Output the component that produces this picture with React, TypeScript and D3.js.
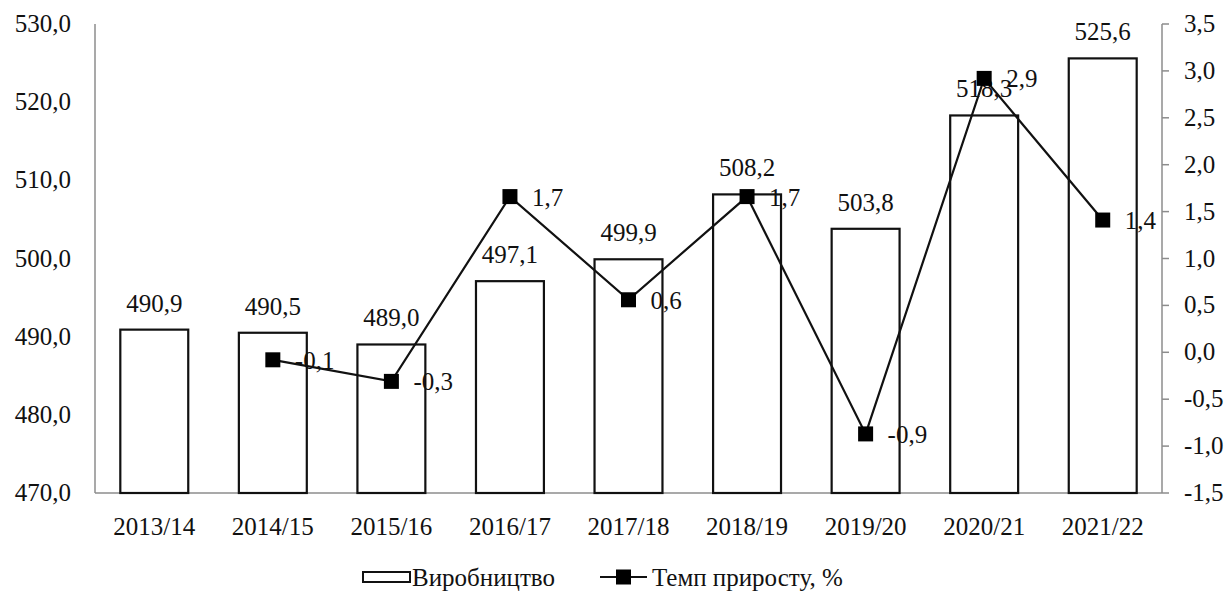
import * as d3 from "d3";

const categories = ["2013/14", "2014/15", "2015/16", "2016/17", "2017/18", "2018/19", "2019/20", "2020/21", "2021/22"];
const production = [490.9, 490.5, 489.0, 497.1, 499.9, 508.2, 503.8, 518.3, 525.6];
// growth rate, %; first season has no previous year
const growth: (number | null)[] = [null, -0.08, -0.31, 1.66, 0.56, 1.66, -0.87, 2.92, 1.41];
const leftTicks = [470, 480, 490, 500, 510, 520, 530];
const rightTicks = [-1.5, -1.0, -0.5, 0, 0.5, 1.0, 1.5, 2.0, 2.5, 3.0, 3.5];

const width = 1230;
const height = 594;
const marginLeft = 95;
const marginRight = 68;
const marginTop = 24;
const marginBottom = 101;
const font = "Liberation Serif, Tinos, Times New Roman, serif";
const fontSize = 25;

const fmt = (v: number) => v.toFixed(1).replace(".", ",");

export default function App() {
  const plotRight = width - marginRight;
  const plotBottom = height - marginBottom;

  const x = d3
    .scaleBand()
    .domain(categories)
    .range([marginLeft, plotRight])
    .paddingInner(0.427)
    .paddingOuter(0.2135);

  const yLeft = d3.scaleLinear().domain([470, 530]).range([plotBottom, marginTop]);
  const yRight = d3.scaleLinear().domain([-1.5, 3.5]).range([plotBottom, marginTop]);

  const pts = categories
    .map((c, i) => ({ c, v: growth[i] }))
    .filter((d) => d.v !== null) as { c: string; v: number }[];

  const cx = (c: string) => x(c)! + x.bandwidth() / 2;

  const line = d3
    .line<{ c: string; v: number }>()
    .x((d) => cx(d.c))
    .y((d) => yRight(d.v));

  const txt = { fontFamily: font, fontSize, fill: "#111" };

  return (
    <svg
      width={width}
      height={height}
      viewBox={`0 0 ${width} ${height}`}
      style={{ position: "absolute", left: 0, top: 0, background: "#fff" }}
    >
      {/* axes */}
      <line x1={marginLeft} x2={marginLeft} y1={marginTop} y2={plotBottom} stroke="#8c8c8c" strokeWidth={1.5} />
      <line x1={marginLeft} x2={plotRight} y1={plotBottom} y2={plotBottom} stroke="#8c8c8c" strokeWidth={1.5} />
      <line x1={plotRight} x2={plotRight} y1={marginTop} y2={plotBottom} stroke="#8c8c8c" strokeWidth={1.5} />

      <g className="y-left">
        {leftTicks.map((t) => (
          <text key={t} x={71} y={yLeft(t) + 8} textAnchor="end" style={txt}>
            {fmt(t)}
          </text>
        ))}
      </g>

      <g className="y-right">
        {rightTicks.map((t) => (
          <g key={t}>
            <line x1={plotRight} x2={plotRight + 7} y1={yRight(t)} y2={yRight(t)} stroke="#8c8c8c" strokeWidth={1.5} />
            <text x={1184} y={yRight(t) + 8} style={txt}>
              {fmt(t)}
            </text>
          </g>
        ))}
      </g>

      <g className="x-labels">
        {categories.map((c) => (
          <text key={c} x={cx(c)} y={535} textAnchor="middle" style={txt}>
            {c}
          </text>
        ))}
      </g>

      <g className="bars">
        {categories.map((c, i) => (
          <rect
            key={c}
            x={x(c)}
            y={yLeft(production[i])}
            width={x.bandwidth()}
            height={plotBottom - yLeft(production[i])}
            fill="#fff"
            stroke="#111"
            strokeWidth={2.2}
          />
        ))}
      </g>

      <g className="bar-labels">
        {categories.map((c, i) => (
          <text key={c} x={cx(c)} y={yLeft(production[i]) - 18} textAnchor="middle" style={txt}>
            {fmt(production[i])}
          </text>
        ))}
      </g>

      <path d={line(pts) ?? ""} fill="none" stroke="#111" strokeWidth={2.2} />
      <g className="markers">
        {pts.map((d) => (
          <rect key={d.c} x={cx(d.c) - 7.5} y={yRight(d.v) - 7.5} width={15} height={15} fill="#000" />
        ))}
      </g>
      <g className="line-labels">
        {pts.map((d) => (
          <text key={d.c} x={cx(d.c) + 22} y={yRight(d.v) + 9} style={txt}>
            {fmt(d.v)}
          </text>
        ))}
      </g>

      {/* legend */}
      <g className="legend">
        <rect x={363} y={572} width={47} height={10} fill="#fff" stroke="#111" strokeWidth={2} />
        <text x={412} y={586} style={txt}>Виробництво</text>
        <line x1={600} x2={647} y1={577} y2={577} stroke="#111" strokeWidth={2.2} />
        <rect x={616} y={569.5} width={15} height={15} fill="#000" />
        <text x={652} y={586} style={txt}>Темп приросту, %</text>
      </g>
    </svg>
  );
}
